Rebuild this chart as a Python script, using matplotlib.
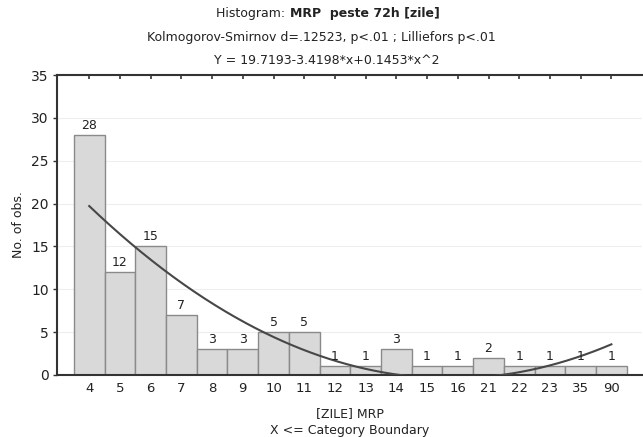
import numpy as np
import matplotlib
matplotlib.use("Agg")
import matplotlib.pyplot as plt

plt.rcParams['font.family'] = ['DejaVu Sans']

categories = ["4", "5", "6", "7", "8", "9", "10", "11", "12", "13", "14",
              "15", "16", "21", "22", "23", "35", "90"]
counts = [28, 12, 15, 7, 3, 3, 5, 5, 1, 1, 3, 1, 1, 2, 1, 1, 1, 1]
fit_coeffs = [19.7193, -3.4198, 0.1453]  # Y = a + b*x + c*x^2

fig = plt.figure(figsize=(6.43, 4.37), dpi=100)
ax = fig.add_axes([0.0886, 0.142, 0.9100, 0.686])

x = np.arange(len(categories))
ax.bar(x, counts, width=1.0, color='#d9d9d9', edgecolor='#8a8a8a',
       linewidth=1.0, zorder=2)
for xi, c in zip(x, counts):
    ax.text(xi, c + 0.35, str(c), ha='center', va='bottom', fontsize=9,
            color='#222222', zorder=4)

xs = np.linspace(0, len(categories) - 1, 400)
ys = fit_coeffs[0] + fit_coeffs[1] * xs + fit_coeffs[2] * xs ** 2
ax.plot(xs, ys, color='#474747', linewidth=1.5, zorder=3)

ax.set_xlim(-1.05, 18.0)
ax.set_ylim(0, 35)
ax.set_yticks(range(0, 36, 5))
ax.set_xticks(x)
ax.set_xticklabels(categories)
ax.tick_params(axis='x', direction='in', length=3, width=1.2, color='#333333',
               labelsize=9.5, labelcolor='#222222', pad=5, top=True)
ax.tick_params(axis='y', direction='out', length=3, width=1.0, color='#333333',
               labelsize=10, labelcolor='#222222', pad=3)
ax.yaxis.grid(True, color='#eeeeee', linewidth=0.8, zorder=0)
ax.set_axisbelow(True)

for s in ['left', 'top', 'bottom']:
    ax.spines[s].set_color('#333333')
    ax.spines[s].set_linewidth(1.5)
ax.spines['right'].set_visible(False)

ax.set_ylabel("No. of obs.", fontsize=9, labelpad=4, color='#222222')
ax.set_xlabel("[ZILE] MRP\nX <= Category Boundary", fontsize=9, labelpad=9,
              linespacing=1.35, color='#222222')

title_y = 1 - 14 / 437
t1 = fig.text(0.5, title_y, "Histogram: ", ha='left', va='center',
              fontsize=9, color='#222222')
t2 = fig.text(0.5, title_y, "MRP  peste 72h [zile]", ha='left', va='center',
              fontsize=9, fontweight='bold', color='#222222')
fig.canvas.draw()
r = fig.canvas.get_renderer()
w1 = t1.get_window_extent(r).width / fig.bbox.width
w2 = t2.get_window_extent(r).width / fig.bbox.width
x0 = 0.51 - (w1 + w2) / 2
t1.set_x(x0)
t2.set_x(x0 + w1)

fig.text(0.5, 1 - 38 / 437,
         "Kolmogorov-Smirnov d=.12523, p<.01 ; Lilliefors p<.01",
         ha='center', va='center', fontsize=9, color='#222222')
fig.text(0.508, 1 - 61 / 437, "Y = 19.7193-3.4198*x+0.1453*x^2",
         ha='center', va='center', fontsize=9, color='#222222')

fig.savefig("out.png", dpi=100)
